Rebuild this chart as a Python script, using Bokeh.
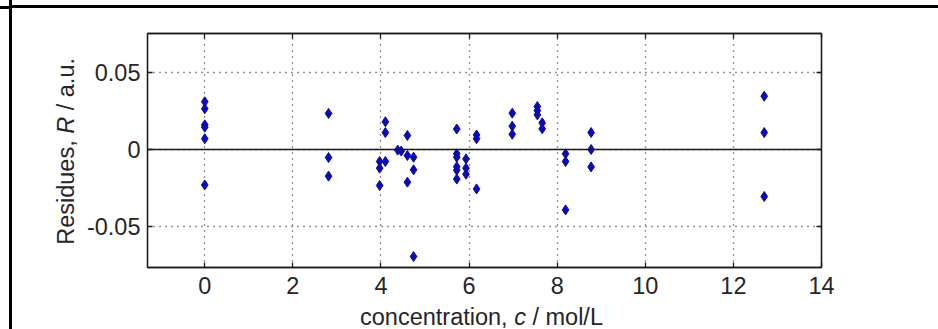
from bokeh.plotting import figure
from bokeh.models import ColumnDataSource, FixedTicker, LinearAxis, Span, Range1d, Div
from bokeh.layouts import column, row
from bokeh.embed import file_html
from bokeh.resources import INLINE

# ---------------- data ----------------
concentration = [
    0.0, 0.0, 0.0, 0.0, 0.0, 0.0,
    2.81, 2.81, 2.81,
    3.97, 3.97, 3.97,
    4.10, 4.10, 4.10,
    4.38, 4.46,
    4.60, 4.60, 4.60,
    4.74, 4.74, 4.74,
    5.72, 5.72, 5.72, 5.72, 5.72, 5.72,
    5.93, 5.93, 5.93,
    6.17, 6.17, 6.17,
    6.98, 6.98, 6.98,
    7.55, 7.55, 7.55,
    7.66, 7.66,
    8.19, 8.19, 8.19,
    8.77, 8.77, 8.77,
    12.70, 12.70, 12.70,
]
residues = [
    0.0310, 0.0265, 0.0160, 0.0145, 0.0070, -0.0230,
    0.0234, -0.0052, -0.0173,
    -0.0078, -0.0121, -0.0234,
    0.0180, 0.0110, -0.0078,
    -0.0004, -0.0010,
    0.0091, -0.0039, -0.0212,
    -0.0050, -0.0132, -0.0695,
    0.0133, -0.0028, -0.0050, -0.0112, -0.0134, -0.0192,
    -0.0061, -0.0121, -0.0160,
    0.0094, 0.0070, -0.0256,
    0.0236, 0.0151, 0.0099,
    0.0279, 0.0253, 0.0225,
    0.0173, 0.0134,
    -0.0028, -0.0078, -0.0392,
    0.0110, 0.0000, -0.0113,
    0.0346, 0.0110, -0.0305,
]
x_ticks = [0, 2, 4, 6, 8, 10, 12, 14]
y_ticks = [-0.05, 0, 0.05]
y_tick_labels = {-0.05: "-0.05", 0: "0", 0.05: "0.05"}
x_label_html = "concentration, <i>c</i> / mol/L"
y_label_html = "Residues, <i>R</i> / a.u."

# ---------------- layout constants ----------------
FONT = "Liberation Sans"
FS = "23.5px"
TEXT_COLOR = "#262626"
LINE_COLOR = "#1a1a1a"
X_MIN, X_MAX = -1.3, 14.0
Y_MIN, Y_MAX = -0.0766, 0.0753
FIG_W, FIG_H = 856, 297
B_LEFT, B_RIGHT, B_TOP, B_BOTTOM = 65, 117, 25, 38
YLAB_W = 70
XLAB_H = 24
BLACK = {"background-color": "black"}

p = figure(
    width=FIG_W, height=FIG_H,
    x_range=Range1d(X_MIN, X_MAX), y_range=Range1d(Y_MIN, Y_MAX),
    output_backend="svg", toolbar_location=None,
    min_border_left=B_LEFT, min_border_right=B_RIGHT,
    min_border_top=B_TOP, min_border_bottom=B_BOTTOM,
    margin=0,
)
p.background_fill_color = "white"
p.border_fill_color = "white"
p.outline_line_color = LINE_COLOR
p.outline_line_width = 1.3

# axes (MATLAB style box with inward ticks)
p.xaxis.ticker = FixedTicker(ticks=x_ticks, minor_ticks=[])
p.yaxis.ticker = FixedTicker(ticks=y_ticks, minor_ticks=[])
p.yaxis.major_label_overrides = y_tick_labels
for ax in (p.xaxis[0], p.yaxis[0]):
    ax.major_tick_in = 5
    ax.major_tick_out = 0
    ax.minor_tick_line_color = None
    ax.axis_line_color = LINE_COLOR
    ax.axis_line_width = 1.3
    ax.major_tick_line_color = LINE_COLOR
    ax.major_tick_line_width = 1.3
    ax.major_label_text_font = FONT
    ax.major_label_text_font_size = FS
    ax.major_label_text_color = TEXT_COLOR
p.xaxis.major_label_standoff = 9
p.yaxis.major_label_standoff = 7

top_ax = LinearAxis(ticker=FixedTicker(ticks=x_ticks, minor_ticks=[]),
                    major_label_overrides={t: "" for t in x_ticks})
right_ax = LinearAxis(ticker=FixedTicker(ticks=y_ticks, minor_ticks=[]),
                      major_label_overrides={t: "" for t in y_ticks})
for ax in (top_ax, right_ax):
    ax.major_tick_in = 5
    ax.major_tick_out = 0
    ax.minor_tick_line_color = None
    ax.axis_line_color = LINE_COLOR
    ax.axis_line_width = 1.3
    ax.major_tick_line_color = LINE_COLOR
    ax.major_tick_line_width = 1.3
    ax.major_label_text_font_size = "1px"
    ax.major_label_standoff = 0
p.add_layout(top_ax, "above")
p.add_layout(right_ax, "right")

# dotted grid
p.xgrid.ticker = FixedTicker(ticks=x_ticks, minor_ticks=[])
p.ygrid.ticker = FixedTicker(ticks=y_ticks, minor_ticks=[])
p.grid.grid_line_color = "#2a2a2a"
p.grid.grid_line_dash = "1 5"
p.grid.grid_line_width = 1.3

# zero line
p.add_layout(Span(location=0, dimension="width", line_color=LINE_COLOR, line_width=1.5))

src = ColumnDataSource(dict(c=concentration, r=residues))
p.scatter(x="c", y="r", source=src, marker="diamond", size=10,
          fill_color="#0b0bb0", line_color="#0b0bb0", line_width=1)

# axis labels as HTML (italic symbols)
font_css = f"font-family:'{FONT}'; font-size:{FS}; color:{TEXT_COLOR}; white-space:nowrap;"
ylab = Div(
    text=(f"<div style=\"position:relative; width:{YLAB_W}px; height:{FIG_H}px;\">"
          f"<div style=\"position:absolute; left:41px; top:50px; writing-mode:vertical-rl; "
          f"transform:rotate(180deg); line-height:26px; {font_css}\">{y_label_html}</div></div>"),
    width=YLAB_W, height=FIG_H, margin=0,
)
xlab = Div(
    text=(f"<div style=\"padding-left:278px; line-height:{XLAB_H}px; {font_css}\">"
          f"{x_label_html}</div>"),
    width=FIG_W, height=XLAB_H, margin=0,
)

# page frame lines (table cell border in the reference)
left_strip = column(
    Div(text="", width=9, height=6, margin=0),
    Div(text="", width=9, height=3, margin=0, styles=BLACK),
    Div(text="", width=9, height=320, margin=0),
    margin=0,
)
vline = Div(text="", width=3, height=329, margin=0, styles=BLACK)
content = column(
    Div(text="", width=926, height=5, margin=0),
    Div(text="", width=926, height=3, margin=0, styles=BLACK),
    row(ylab, column(p, xlab, margin=0), margin=0),
    margin=0,
)
layout = row(left_strip, vline, content, margin=0)

open("out.html", "w").write(file_html(layout, INLINE))
